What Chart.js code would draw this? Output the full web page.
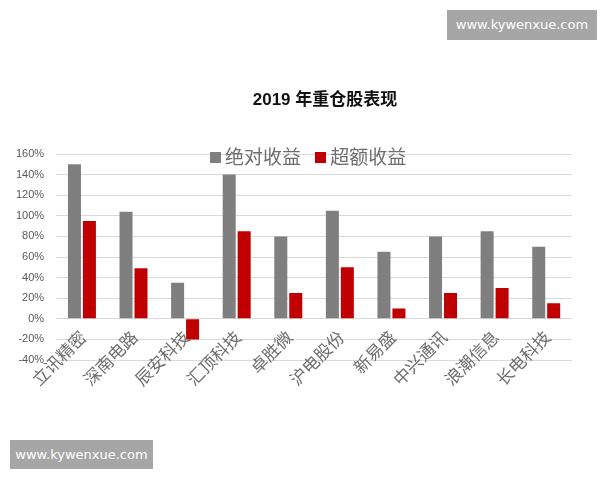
<!DOCTYPE html>
<html>
<head>
<meta charset="utf-8">
<script src="https://cdn.jsdelivr.net/npm/chart.js@4"></script>
<style>
  body { margin: 0; background: #fff; }
  #wrap { position: relative; width: 600px; height: 480px; overflow: hidden; }
  #c { position: absolute; left: 0; top: 0; }
  .title { position: absolute; left: 0; width: 650px; top: 85px; text-align: center;
    font: bold 17px "Liberation Sans", "Noto Sans CJK SC", sans-serif; color: #111; }
  .legend { position: absolute; top: 142px; left: 210px; font: 19px "Noto Sans CJK SC", sans-serif;
    color: #6e6e6e; white-space: nowrap; }
  .legend span.box { display: inline-block; width: 11px; height: 11px; margin-right: 4px; vertical-align: 1px; }
  .legend span.item { margin-right: 10px; }
  .wm { position: absolute; background: #a6a6a6; color: #fff; font: 13px "DejaVu Sans", sans-serif;
    text-align: center; line-height: 29px; }
</style>
</head>
<body>
<div id="wrap">
  <canvas id="c" width="600" height="480"></canvas>
  <div class="title">2019 年重仓股表现</div>
  <div class="legend">
    <span class="item"><span class="box" style="background:#7f7f7f"></span>绝对收益</span>
    <span class="item"><span class="box" style="background:#c00000"></span>超额收益</span>
  </div>
  <div class="wm" style="left:447px;top:10px;width:150px;height:30px;">www.kywenxue.com</div>
  <div class="wm" style="left:10px;top:440px;width:143px;height:29px;">www.kywenxue.com</div>
</div>
<script>
// 数据
const categories = ["立讯精密", "深南电路", "辰安科技", "汇顶科技", "卓胜微", "沪电股份", "新易盛", "中兴通讯", "浪潮信息", "长电科技"];
const absReturn = [150, 104, 35, 140, 80, 105, 65, 80, 85, 70];
const excessReturn = [95, 49, -20, 85, 25, 50, 10, 25, 30, 15];
const seriesNames = ["绝对收益", "超额收益"];

// 斜排的类目标签（Excel 样式：压在图表区底部之上）
const slantLabels = {
  id: "slantLabels",
  afterDraw(chart) {
    const c = chart.ctx;
    const xs = chart.scales.x;
    const y0 = chart.chartArea.bottom - 26;
    c.save();
    c.font = '17px "Noto Sans CJK SC"';
    c.fillStyle = "#6e6e6e";
    c.textAlign = "right";
    c.textBaseline = "middle";
    categories.forEach((lab, i) => {
      c.save();
      c.translate(xs.getPixelForTick(i) + 1, y0);
      c.rotate(-Math.PI / 4);
      c.fillText(lab, 0, 0);
      c.restore();
    });
    c.restore();
  }
};

const ctx = document.getElementById("c").getContext("2d");
new Chart(ctx, {
  type: "bar",
  data: {
    labels: categories,
    datasets: [
      { label: seriesNames[0], data: absReturn, backgroundColor: "#7f7f7f" },
      { label: seriesNames[1], data: excessReturn, backgroundColor: "#c00000" }
    ]
  },
  options: {
    responsive: false,
    animation: false,
    categoryPercentage: 0.58,
    barPercentage: 0.87,
    layout: { padding: { top: 154, left: 4, right: 28, bottom: 120 } },
    plugins: { legend: { display: false }, title: { display: false }, tooltip: { enabled: false } },
    scales: {
      x: {
        grid: { display: false, drawTicks: false },
        border: { display: false },
        ticks: { display: false }
      },
      y: {
        min: -40, max: 160,
        grid: { color: "#d9d9d9", drawTicks: false },
        border: { display: false },
        ticks: {
          stepSize: 20, padding: 12,
          color: "#595959",
          font: { size: 11, family: "Liberation Sans" },
          callback: v => v + "%"
        }
      }
    }
  },
  plugins: [slantLabels]
});
</script>
</body>
</html>
